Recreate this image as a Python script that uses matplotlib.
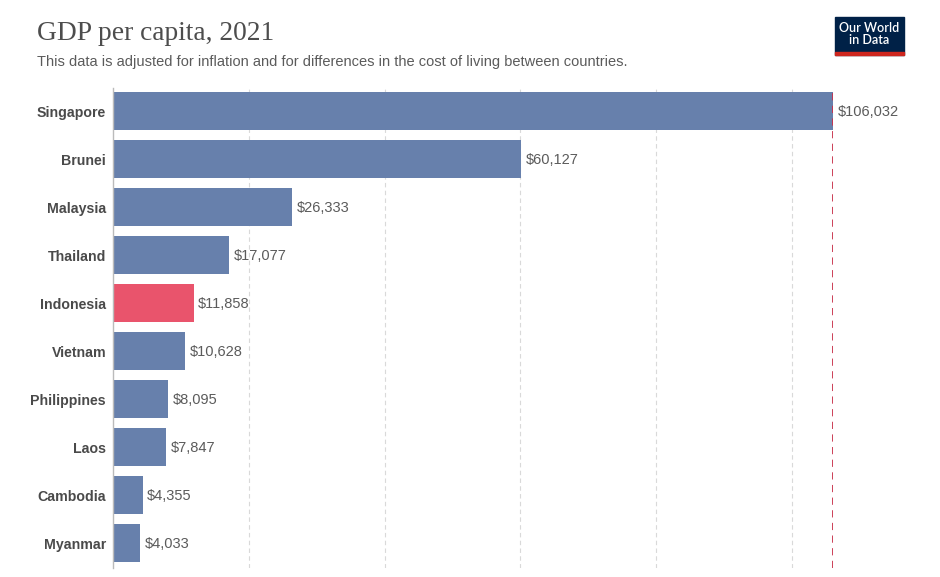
import matplotlib.pyplot as plt
from matplotlib.patches import Rectangle

countries = ['Singapore', 'Brunei', 'Malaysia', 'Thailand', 'Indonesia',
             'Vietnam', 'Philippines', 'Laos', 'Cambodia', 'Myanmar']
gdp = [106032, 60127, 26333, 17077, 11858, 10628, 8095, 7847, 4355, 4033]
highlight = 'Indonesia'

blue = '#6780ac'
red = '#e9546c'

fig = plt.figure(figsize=(9.4, 5.77), dpi=100)
ax = fig.add_axes([113/940, 1 - 568/577, (833 - 113)/940, (568 - 88)/577])

ypos = list(range(len(countries)))
colors = [red if c == highlight else blue for c in countries]
ax.barh(ypos, gdp, height=0.8, color=colors, zorder=2)

# value labels at the bar ends
for y, v in zip(ypos, gdp):
    ax.text(v + 700, y + 0.01, '${:,}'.format(v), va='center', ha='left',
            fontsize=10.5, color='#5b5b5b', family='Liberation Sans', clip_on=False)

ax.set_xlim(0, max(gdp))
ax.set_ylim(len(countries) - 0.48, -0.48)
ax.set_yticks(ypos)
ax.set_yticklabels(countries, fontsize=10.2, fontweight='bold', color='#4a4a4a',
                   family='Liberation Sans')
ax.tick_params(axis='y', length=0, pad=5)
ax.set_xticks([20000, 40000, 60000, 80000, 100000])
ax.tick_params(axis='x', length=0, labelbottom=False)
ax.grid(axis='x', color='#d9d9d9', linestyle=(0, (4, 3)), linewidth=0.8, zorder=0)

for s in ['top', 'right', 'bottom']:
    ax.spines[s].set_visible(False)
ax.spines['left'].set_color('#bbbbbb')
ax.spines['left'].set_linewidth(1)

ax.axvline(max(gdp), color='#c8314b', linestyle=(0, (4, 3)), linewidth=1.3, zorder=3)

fig.text(37/940, 1 - 34/577, 'GDP per capita, 2021', fontsize=19.8, color='#4d4d4d',
         family='Liberation Serif', va='center', ha='left')
fig.text(37/940, 1 - 62/577,
         'This data is adjusted for inflation and for differences in the cost of living between countries.',
         fontsize=10.5, color='#5b5b5b', family='Liberation Sans', va='center', ha='left')

# logo
fig.patches.append(Rectangle((835/940, 1 - 55/577), 69/940, 38/577,
                             transform=fig.transFigure, color='#002147', zorder=5))
fig.patches.append(Rectangle((835/940, 1 - 55/577), 69/940, 3/577,
                             transform=fig.transFigure, color='#ce261e', zorder=6))
fig.text(869.5/940, 1 - 34.5/577, 'Our World\nin Data', fontsize=9, color='white',
         family='Lato', fontweight='semibold', ha='center', va='center',
         linespacing=1.0, zorder=7)

fig.savefig('out.png', dpi=100)
